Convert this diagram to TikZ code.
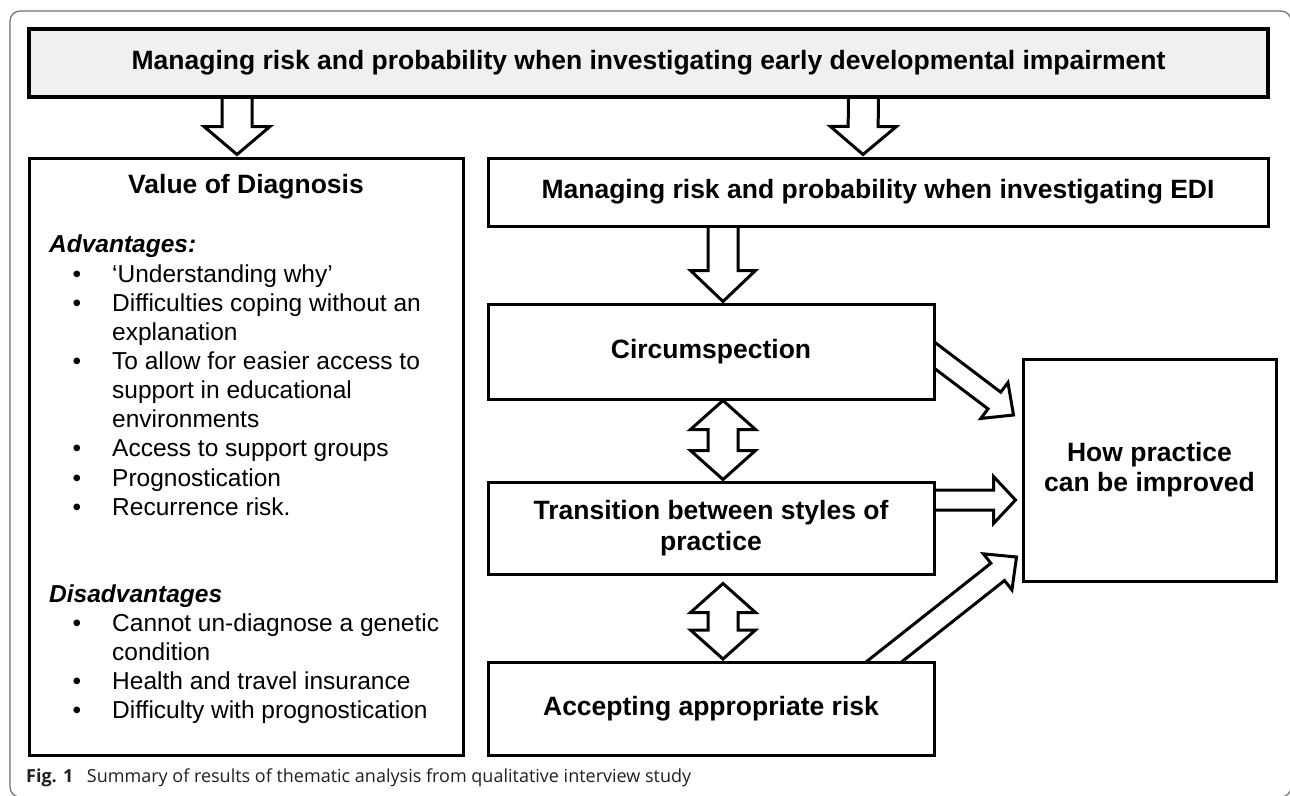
\documentclass[tikz,border=0pt]{standalone}
\usepackage{fontspec}
\setmainfont{Liberation Sans}
\newfontfamily\capfont{Open Sans}
\usetikzlibrary{calc,backgrounds}
\definecolor{titlegray}{HTML}{F0F0F0}
\definecolor{capcol}{HTML}{231F20}
\definecolor{framecol}{HTML}{6E6E6E}

\newcommand\barrow[5]{%
  \coordinate (bA) at #1; \coordinate (bB) at #2;
  \coordinate (bH) at ($(bB)!#5!(bA)$);
  \draw[blk] ($(bA)!#3!90:(bB)$) -- ($(bH)!#3!90:(bB)$) -- ($(bH)!#4!90:(bB)$) -- (bB)
    -- ($(bH)!#4!-90:(bB)$) -- ($(bH)!#3!-90:(bB)$) -- ($(bA)!#3!-90:(bB)$);
}
\newcommand\dbarrow[5]{%
  \coordinate (bA) at #1; \coordinate (bB) at #2;
  \coordinate (bH1) at ($(bA)!#5!(bB)$); \coordinate (bH2) at ($(bB)!#5!(bA)$);
  \draw[blk] (bA) -- ($(bH1)!#4!90:(bB)$) -- ($(bH1)!#3!90:(bB)$) -- ($(bH2)!#3!90:(bB)$)
    -- ($(bH2)!#4!90:(bB)$) -- (bB) -- ($(bH2)!#4!-90:(bB)$) -- ($(bH2)!#3!-90:(bB)$)
    -- ($(bH1)!#3!-90:(bB)$) -- ($(bH1)!#4!-90:(bB)$) -- cycle;
}

\tikzset{
  box/.style={draw=black, line width=3pt, fill=white, inner sep=0pt, align=center,
    font=\bfseries\fontsize{26.5}{31}\selectfont},
  blk/.style={draw=black, line width=3pt, fill=white, line join=miter, miter limit=10},
  body/.style={anchor=base west, inner sep=0pt, font=\fontsize{24.5}{29}\selectfont},
  bul/.style={anchor=base, inner sep=0pt, font=\fontsize{24.5}{29}\selectfont},
  subhead/.style={anchor=base west, inner sep=0pt, font=\bfseries\itshape\fontsize{24.5}{29}\selectfont},
}

\begin{document}
\begin{tikzpicture}[x=1pt,y=-1pt]
\useasboundingbox (0,0) rectangle (1290,795);

% boxes
\node[box, fill=titlegray, line width=4pt, minimum width=1239pt, minimum height=68pt] (title) at (648.5,63)
  {Managing risk and probability when investigating early developmental impairment};
\node[box, minimum width=434pt, minimum height=597pt] (value) at (246,456.5) {};
\node[box, minimum width=780pt, minimum height=68pt] (edi) at (878,192)
  {Managing risk and probability when investigating EDI};
\node[box, minimum width=446pt, minimum height=95pt] (circ) at (711,351.5) {Circumspection};
\node[box, minimum width=446pt, minimum height=92pt] (trans) at (711,528)
  {Transition between styles of\\practice};
\node[box, minimum width=446pt, minimum height=93pt] (acc) at (711,708.5) {Accepting appropriate risk};
\node[box, minimum width=253pt, minimum height=222pt, font=\bfseries\fontsize{26.5}{30}\selectfont] (how) at (1149.5,470)
  {How practice\\can be improved};

% value of diagnosis content
\node[anchor=base, inner sep=0pt, font=\bfseries\fontsize{26.5}{31}\selectfont] (vhead) at (246,193) {Value of Diagnosis};
\node[subhead] (adv) at (49,252) {Advantages:};
\node[bul] (b1) at (77,282) {\textbullet};
\node[body] (t1) at (112,282) {‘Understanding why’};
\node[bul] (b2) at (77,311) {\textbullet};
\node[body] (t2) at (112,311) {Difficulties coping without an};
\node[body] (t2b) at (112,340) {explanation};
\node[bul] (b3) at (77,369) {\textbullet};
\node[body] (t3) at (112,369) {To allow for easier access to};
\node[body] (t3b) at (112,398) {support in educational};
\node[body] (t3c) at (112,427) {environments};
\node[bul] (b4) at (77,456) {\textbullet};
\node[body] (t4) at (112,456) {Access to support groups};
\node[bul] (b5) at (77,486) {\textbullet};
\node[body] (t5) at (112,486) {Prognostication};
\node[bul] (b6) at (77,515) {\textbullet};
\node[body] (t6) at (112,515) {Recurrence risk.};
\node[subhead] (dis) at (49,602) {Disadvantages};
\node[bul] (b7) at (77,631) {\textbullet};
\node[body] (t7) at (112,631) {Cannot un-diagnose a genetic};
\node[body] (t7b) at (112,660) {condition};
\node[bul] (b8) at (77,689) {\textbullet};
\node[body] (t8) at (112,689) {Health and travel insurance};
\node[bul] (b9) at (77,718) {\textbullet};
\node[body] (t9) at (112,718) {Difficulty with prognostication};

% caption
\node[anchor=base west, inner sep=0pt, text=capcol, font=\capfont\fontsize{18}{22}\selectfont] (cap) at (26,782)
  {\textbf{Fig. 1}\hspace{0.75em}Summary of results of thematic analysis from qualitative interview study};

\begin{pgfonlayer}{background}
\draw[framecol, line width=1.2pt, rounded corners=10pt] (10,11) rectangle (1291,797);
% block arrows
\barrow{($(title.south)+(-411.5,-20)$)}{($(value.north)+(-9,-2)$)}{15pt}{33pt}{28pt}
\barrow{($(title.south)+(215,-20)$)}{($(edi.north)+(-15,-2)$)}{15pt}{33pt}{28pt}
\barrow{($(edi.south)+(-155,-20)$)}{($(circ.north)+(12,-1)$)}{15pt}{32.5pt}{31pt}
\dbarrow{($(circ.south)+(12,0)$)}{($(trans.north)+(12,-1)$)}{15pt}{32.5pt}{29pt}
\dbarrow{($(trans.south)+(12,8)$)}{($(acc.north)+(12,-1.5)$)}{15pt}{32.5pt}{29pt}
\barrow{($(circ.east)+(-32,-19.7)$)}{($(how.west)+(-8,-55)$)}{10.5pt}{22.5pt}{24pt}
\barrow{($(trans.east)+(-30,-28)$)}{($(how.west)+(-6,30)$)}{10pt}{23.5pt}{22pt}
\barrow{($(acc.north)+(143,25)$)}{($(how.west)+(-5,87)$)}{11pt}{23pt}{24pt}
\end{pgfonlayer}
\end{tikzpicture}
\end{document}
